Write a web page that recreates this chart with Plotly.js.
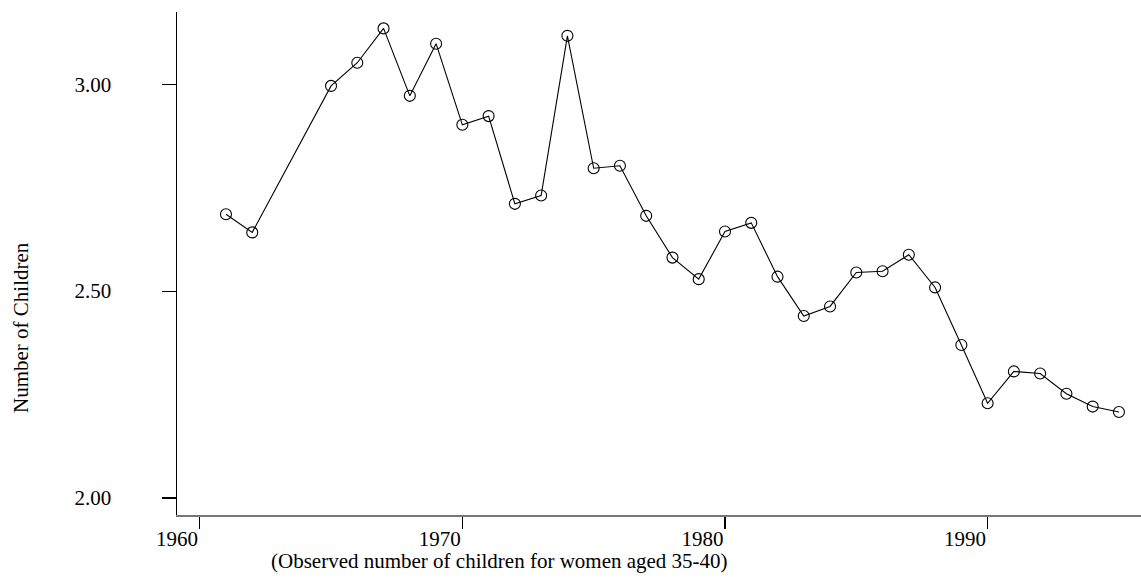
<!DOCTYPE html>
<html>
<head>
<meta charset="utf-8">
<script src="https://cdn.plot.ly/plotly-3.0.1.min.js"></script>
<style>html,body{margin:0;padding:0;background:#fff;}#chart{width:1141px;height:579px;}</style>
</head>
<body>
<div id="chart"></div>
<script>
const years = [1961,1962,1965,1966,1967,1968,1969,1970,1971,1972,1973,1974,1975,1976,1977,1978,1979,1980,1981,1982,1983,1984,1985,1986,1987,1988,1989,1990,1991,1992,1993,1994,1995];
const children = [2.686,2.642,2.996,3.052,3.135,2.972,3.098,2.902,2.923,2.711,2.731,3.117,2.797,2.803,2.682,2.581,2.529,2.644,2.665,2.535,2.440,2.463,2.545,2.548,2.588,2.509,2.370,2.229,2.306,2.301,2.252,2.221,2.208];
const xTicks = [1960,1970,1980,1990];
const yTicks = [2.0,2.5,3.0];
const yTickLabels = ["2.00","2.50","3.00"];
const xTitle = "(Observed number of children for women aged 35-40)";
const yTitle = "Number of Children";

const font = {family: "Liberation Serif, Times New Roman, serif", size: 21, color: "#000"};

const trace = {
  x: years, y: children, type: "scatter", mode: "lines+markers",
  line: {color: "#000", width: 1.1},
  marker: {symbol: "circle-open", size: 11, color: "#000", line: {width: 1.1, color: "#000"}},
  hoverinfo: "skip"
};

const layout = {
  width: 1141, height: 579,
  margin: {l: 177, r: 0, t: 12, b: 64},
  paper_bgcolor: "#fff", plot_bgcolor: "#fff",
  showlegend: false,
  font: font,
  xaxis: {
    range: [1959.135, 1995.84],
    tickvals: xTicks, ticktext: xTicks.map(String),
    ticks: "outside", ticklen: 12, tickwidth: 1.2, tickcolor: "#000",
    ticklabelposition: "outside left",
    ticklabelstandoff: 4,
    showgrid: false, zeroline: false,
    showline: true, linecolor: "#777", linewidth: 2,
    tickfont: font
  },
  yaxis: {
    range: [1.959, 3.1746],
    tickvals: yTicks, ticktext: yTickLabels,
    ticks: "outside", ticklen: 14, tickwidth: 1.2, tickcolor: "#000",
    ticklabelstandoff: 46,
    showgrid: false, zeroline: false,
    showline: true, linecolor: "#000", linewidth: 1.5,
    tickfont: font
  },
  annotations: [
    {text: xTitle, xref: "paper", yref: "paper", x: (499-177)/964, y: -(561-515)/503,
     xanchor: "center", yanchor: "middle", showarrow: false, font: font},
    {text: yTitle, xref: "paper", yref: "paper", x: (21-177)/964, y: (515-328)/503,
     xanchor: "center", yanchor: "middle", showarrow: false, textangle: -90, font: font}
  ]
};

Plotly.newPlot("chart", [trace], layout, {staticPlot: true, displayModeBar: false});
</script>
</body>
</html>
